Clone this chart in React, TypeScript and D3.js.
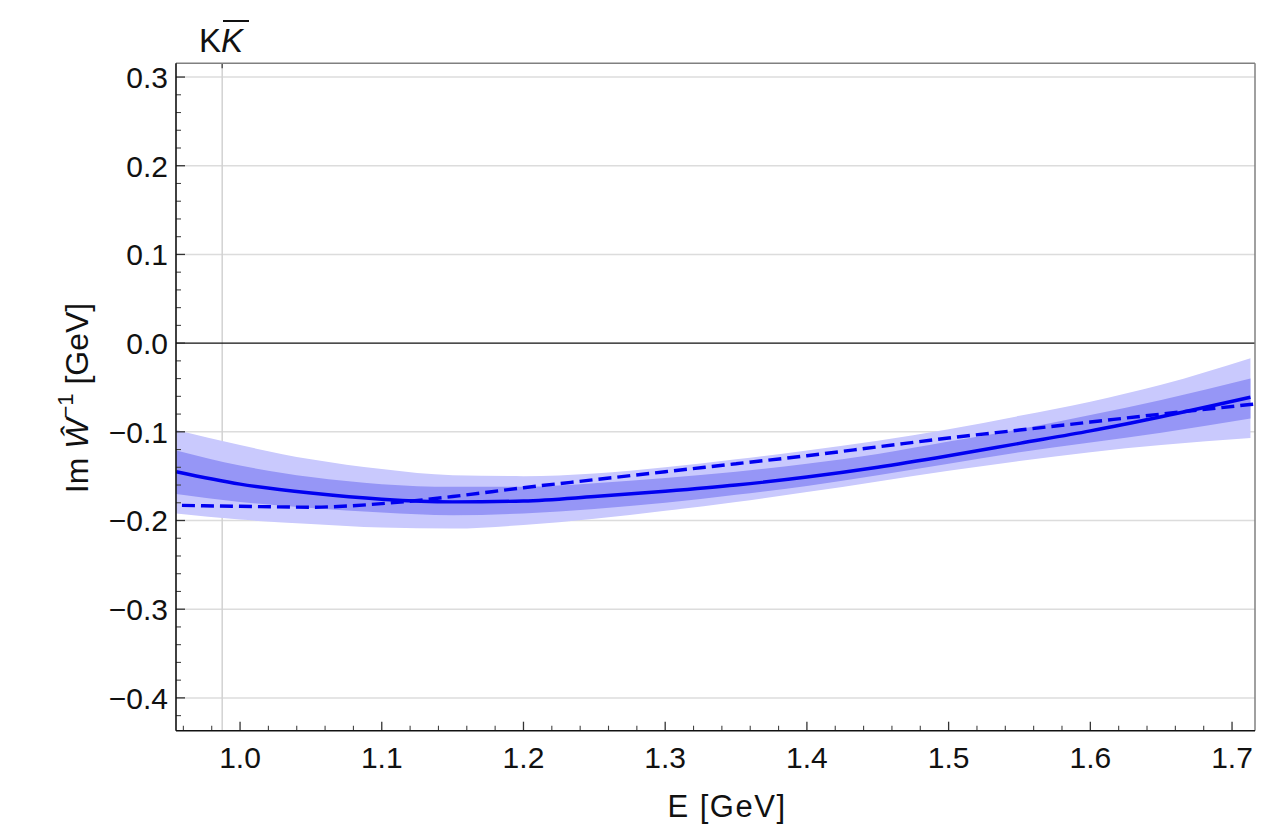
import React from "react";
import * as d3 from "d3";

// ---- data ----
const bandE = [0.955, 1.0, 1.05, 1.1, 1.15, 1.2, 1.25, 1.3, 1.35, 1.4, 1.45, 1.5, 1.55, 1.6, 1.65, 1.713];
const solidLine = [-0.145, -0.159, -0.169, -0.176, -0.179, -0.178, -0.173, -0.167, -0.160, -0.151, -0.140, -0.127, -0.113, -0.099, -0.083, -0.061];
const outerTop = [-0.098, -0.115, -0.131, -0.142, -0.149, -0.150, -0.147, -0.140, -0.131, -0.121, -0.110, -0.097, -0.082, -0.066, -0.047, -0.017];
const outerBottom = [-0.192, -0.199, -0.204, -0.208, -0.209, -0.205, -0.198, -0.189, -0.179, -0.168, -0.156, -0.144, -0.133, -0.123, -0.115, -0.107];
const innerTop = [-0.121, -0.138, -0.151, -0.159, -0.162, -0.162, -0.158, -0.152, -0.145, -0.136, -0.125, -0.111, -0.097, -0.081, -0.064, -0.040];
const innerBottom = [-0.170, -0.179, -0.186, -0.191, -0.194, -0.192, -0.187, -0.180, -0.171, -0.161, -0.149, -0.136, -0.123, -0.112, -0.101, -0.085];

const dashedE = [0.959, 1.0, 1.05, 1.1, 1.15, 1.2, 1.25, 1.3, 1.35, 1.4, 1.45, 1.5, 1.55, 1.6, 1.65, 1.72];
const dashedLine = [-0.183, -0.184, -0.185, -0.181, -0.173, -0.163, -0.154, -0.145, -0.136, -0.127, -0.117, -0.107, -0.098, -0.089, -0.080, -0.068];

const xTicks = [1.0, 1.1, 1.2, 1.3, 1.4, 1.5, 1.6, 1.7];
const yTicks = [0.3, 0.2, 0.1, 0.0, -0.1, -0.2, -0.3, -0.4];
const thresholdE = 0.9874; // K Kbar threshold

const xDomain = [0.9548, 1.7162];
const yDomain = [-0.437, 0.3155];

const W = 1266;
const H = 830;
const L = 176, R = 1255, T = 63.3, B = 730.7;

const fmt = (v: number) => {
  const s = Math.abs(v).toFixed(1);
  return v < -1e-9 ? "\u2212" + s : s;
};

export default function App() {
  const x = d3.scaleLinear().domain(xDomain).range([L, R]);
  const y = d3.scaleLinear().domain(yDomain).range([B, T]);

  const idx = d3.range(bandE.length);
  const curve = d3.curveMonotoneX;
  const area = (top: number[], bot: number[]) =>
    d3.area<number>().x((i) => x(bandE[i])).y0((i) => y(bot[i])).y1((i) => y(top[i])).curve(curve)(idx) || "";
  const solidPath = d3.line<number>().x((i) => x(bandE[i])).y((i) => y(solidLine[i])).curve(curve)(idx) || "";
  const dashedPath =
    d3.line<number>().x((i) => x(dashedE[i])).y((i) => y(dashedLine[i])).curve(curve)(d3.range(dashedE.length)) || "";

  const xMinor = d3.range(0.96, 1.7161, 0.02).filter((v) => !xTicks.some((t) => Math.abs(t - v) < 1e-6));
  const yMinor = d3.range(-0.42, 0.3001, 0.02).filter((v) => !yTicks.some((t) => Math.abs(t - v) < 1e-6));

  const font = "'Liberation Sans', Arial, Helvetica, sans-serif";

  return (
    <svg width={W} height={H} style={{ position: "absolute", left: 0, top: 0, background: "#fff" }} fontFamily={font}>
      <defs>
        <clipPath id="plot">
          <rect x={L} y={T} width={R - L} height={B - T} />
        </clipPath>
      </defs>
      {/* grid */}
      {yTicks.filter((t) => t !== 0).map((t) => (
        <line key={"g" + t} x1={L} x2={R} y1={y(t)} y2={y(t)} stroke="#dcdcdc" strokeWidth={1.5} />
      ))}
      <line x1={x(thresholdE)} x2={x(thresholdE)} y1={T} y2={B} stroke="#d2d2d2" strokeWidth={1.5} />
      <line x1={x(thresholdE)} x2={x(thresholdE)} y1={T} y2={T + 5} stroke="#555" strokeWidth={1.5} />

      <g clipPath="url(#plot)">
        <path d={area(outerTop, outerBottom)} fill="#c9c9fd" />
        <path d={area(innerTop, innerBottom)} fill="#9696f6" />
        <path d={solidPath} fill="none" stroke="#0000f0" strokeWidth={3.4} />
        <path d={dashedPath} fill="none" stroke="#0000f0" strokeWidth={3.4} strokeDasharray="13,6" />
      </g>

      {/* zero line */}
      <line x1={L} x2={R} y1={y(0)} y2={y(0)} stroke="#111" strokeWidth={1.3} />

      {/* frame */}
      <line x1={L} x2={R} y1={T} y2={T} stroke="#808080" strokeWidth={1.5} />
      <line x1={R} x2={R} y1={T} y2={B} stroke="#808080" strokeWidth={1.5} />

      {/* y ticks */}
      {yTicks.map((t) => (
        <line key={"yt" + t} x1={L} x2={L + 9} y1={y(t)} y2={y(t)} stroke="#333" strokeWidth={1.3} />
      ))}
      {yMinor.map((t) => (
        <line key={"ym" + t} x1={L} x2={L + 5} y1={y(t)} y2={y(t)} stroke="#444" strokeWidth={1.1} />
      ))}
      {yTicks.map((t) => (
        <text key={"yl" + t} x={L - 8} y={y(t)} dy="0.36em" textAnchor="end" fontSize={30} fill="#111">
          {fmt(t)}
        </text>
      ))}

      {/* x ticks */}
      {xTicks.map((t) => (
        <line key={"xt" + t} x1={x(t)} x2={x(t)} y1={B} y2={B - 9} stroke="#333" strokeWidth={1.3} />
      ))}
      {xMinor.map((t) => (
        <line key={"xm" + t} x1={x(t)} x2={x(t)} y1={B} y2={B - 5} stroke="#444" strokeWidth={1.1} />
      ))}
      {xTicks.map((t) => (
        <text key={"xl" + t} x={x(t)} y={768} textAnchor="middle" fontSize={30} fill="#111">
          {fmt(t)}
        </text>
      ))}

      {/* axes */}
      <line x1={L} x2={L} y1={T} y2={B} stroke="#111" strokeWidth={1.6} />
      <line x1={L} x2={R} y1={B} y2={B} stroke="#111" strokeWidth={1.6} />

      {/* titles */}
      <text x={727} y={817} textAnchor="middle" fontSize={31} fill="#111" letterSpacing={1.5}>
        E [GeV]
      </text>
      <g transform="translate(88,398) rotate(-90)">
        <text x={0} y={0} textAnchor="middle" fontSize={32} fill="#111">
          <tspan>Im </tspan>
          <tspan fontStyle="italic">{"\u0174"}</tspan>
          <tspan fontSize={22} dy={-15}>{"\u22121"}</tspan>
          <tspan dy={15}>{"  [GeV]"}</tspan>
        </text>
      </g>

      {/* K Kbar label */}
      <text x={199} y={52} fontSize={33} fill="#111">
        <tspan>K</tspan>
        <tspan fontStyle="italic">K</tspan>
      </text>
      <line x1={223} x2={249} y1={21} y2={21} stroke="#111" strokeWidth={2} />
    </svg>
  );
}
